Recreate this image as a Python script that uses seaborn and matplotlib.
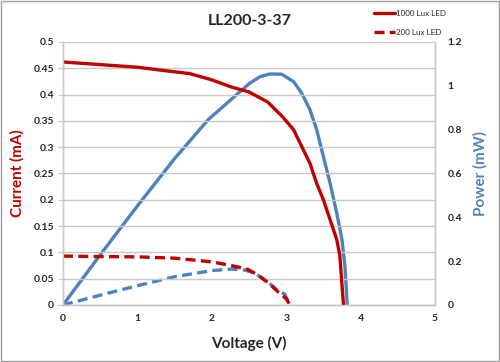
import numpy as np
import pandas as pd
import matplotlib
matplotlib.use("Agg")
import matplotlib.pyplot as plt
import seaborn as sns
from matplotlib.patches import Rectangle
from matplotlib.lines import Line2D

# 1000 lux: current vs voltage
v_i_1000 = [0, 0.5, 1.0, 1.4, 1.7, 2.0, 2.25, 2.5, 2.75, 2.95, 3.1, 3.23, 3.32, 3.41, 3.5, 3.59, 3.68, 3.72, 3.77]
i_1000 = [0.462, 0.457, 0.452, 0.445, 0.440, 0.428, 0.415, 0.405, 0.386, 0.358, 0.333, 0.295, 0.269, 0.231, 0.200, 0.162, 0.124, 0.095, 0.0]
# 1000 lux: power vs voltage
v_p_1000 = [0, 0.5, 1.0, 1.5, 1.95, 2.25, 2.51, 2.65, 2.78, 2.94, 3.1, 3.21, 3.32, 3.41, 3.5, 3.59, 3.68, 3.75, 3.79, 3.82]
p_1000 = [0, 0.229, 0.452, 0.668, 0.845, 0.935, 1.012, 1.042, 1.054, 1.053, 1.019, 0.966, 0.89, 0.80, 0.677, 0.555, 0.418, 0.297, 0.175, 0.0]
# 200 lux
v_i_200 = [0, 0.5, 1.0, 1.5, 2.0, 2.26, 2.48, 2.62, 2.76, 2.89, 3.0, 3.05]
i_200 = [0.093, 0.092, 0.0915, 0.089, 0.082, 0.075, 0.068, 0.057, 0.042, 0.025, 0.012, 0.0]
v_p_200 = [0, 0.56, 1.0, 1.5, 2.0, 2.26, 2.44, 2.58, 2.76, 2.89, 2.98, 3.05]
p_200 = [0, 0.050, 0.088, 0.129, 0.157, 0.164, 0.160, 0.145, 0.103, 0.065, 0.05, 0.0]

red = "#C00000"
blue = "#4F81BD"
grid = "#C8C8C8"

sns.set_style("white")
plt.rcParams['font.family'] = ['Lato', 'DejaVu Sans']
plt.rcParams['font.weight'] = 'bold'

fig = plt.figure(figsize=(5, 3.62), dpi=100)
ax = fig.add_axes([0.126, 0.1575, 0.744, 0.7265])
ax2 = ax.twinx()

df_i1 = pd.DataFrame({"V": v_i_1000, "I": i_1000})
df_i2 = pd.DataFrame({"V": v_i_200, "I": i_200})
df_p1 = pd.DataFrame({"V": v_p_1000, "P": p_1000})
df_p2 = pd.DataFrame({"V": v_p_200, "P": p_200})

lw = 2.4
sns.lineplot(data=df_p1, x="V", y="P", ax=ax2, color=blue, lw=lw, sort=False)
sns.lineplot(data=df_p2, x="V", y="P", ax=ax2, color=blue, lw=lw, sort=False)
ax2.lines[-1].set_dashes([3, 1.6])
sns.lineplot(data=df_i1, x="V", y="I", ax=ax, color=red, lw=lw, sort=False)
sns.lineplot(data=df_i2, x="V", y="I", ax=ax, color=red, lw=lw, sort=False)
ax.lines[-1].set_dashes([3, 1.6])

# current drawn over power
ax.set_zorder(ax2.get_zorder() + 1)
ax.patch.set_visible(False)

ax.set_xlim(0, 5)
ax.set_ylim(0, 0.5)
ax2.set_ylim(0, 1.2)
ax.set_xticks(range(0, 6))
ax.set_yticks(np.arange(0, 0.51, 0.05))
ax.set_yticklabels(["0", "0.05", "0.1", "0.15", "0.2", "0.25", "0.3", "0.35", "0.4", "0.45", "0.5"])
ax2.set_yticks(np.arange(0, 1.21, 0.2))
ax2.set_yticklabels(["0", "0.2", "0.4", "0.6", "0.8", "1", "1.2"])

ax.yaxis.grid(True, color=grid, lw=1.0)
ax.set_axisbelow(True)
for a in (ax, ax2):
    for s in a.spines.values():
        s.set_color(grid)
        s.set_linewidth(1.0)
    a.spines["top"].set_visible(False)
    a.tick_params(labelsize=7.5, length=3.5, width=0.8, color=grid, pad=3)
ax2.tick_params(length=0, pad=9)

ax.set_xlabel("Voltage (V)", fontsize=11, fontweight="bold", labelpad=9)
ax.set_ylabel("Current (mA)", fontsize=11, fontweight="bold", color=red, labelpad=6)
ax2.set_ylabel("Power (mW)", fontsize=11, fontweight="bold", color=blue, labelpad=8)

fig.text(0.499, 0.942, "LL200-3-37", ha="center", va="center", fontsize=11.5, fontweight="bold")

handles = [Line2D([], [], color=red, lw=lw),
           Line2D([], [], color=red, lw=lw, dashes=[3, 1.6])]
fig.legend(handles, ["1000 Lux LED", "200 Lux LED"], loc="upper left",
           bbox_to_anchor=(0.733, 0.993), frameon=False,
           prop={"size": 5.8, "weight": "normal"},
           handlelength=2.6, handletextpad=0.2, labelspacing=1.5)

fig.add_artist(Rectangle((0.001, 0.002), 0.996, 0.995, transform=fig.transFigure,
                         fill=False, ec="#A0A0A0", lw=1.0))

fig.savefig("out.png", dpi=100)
